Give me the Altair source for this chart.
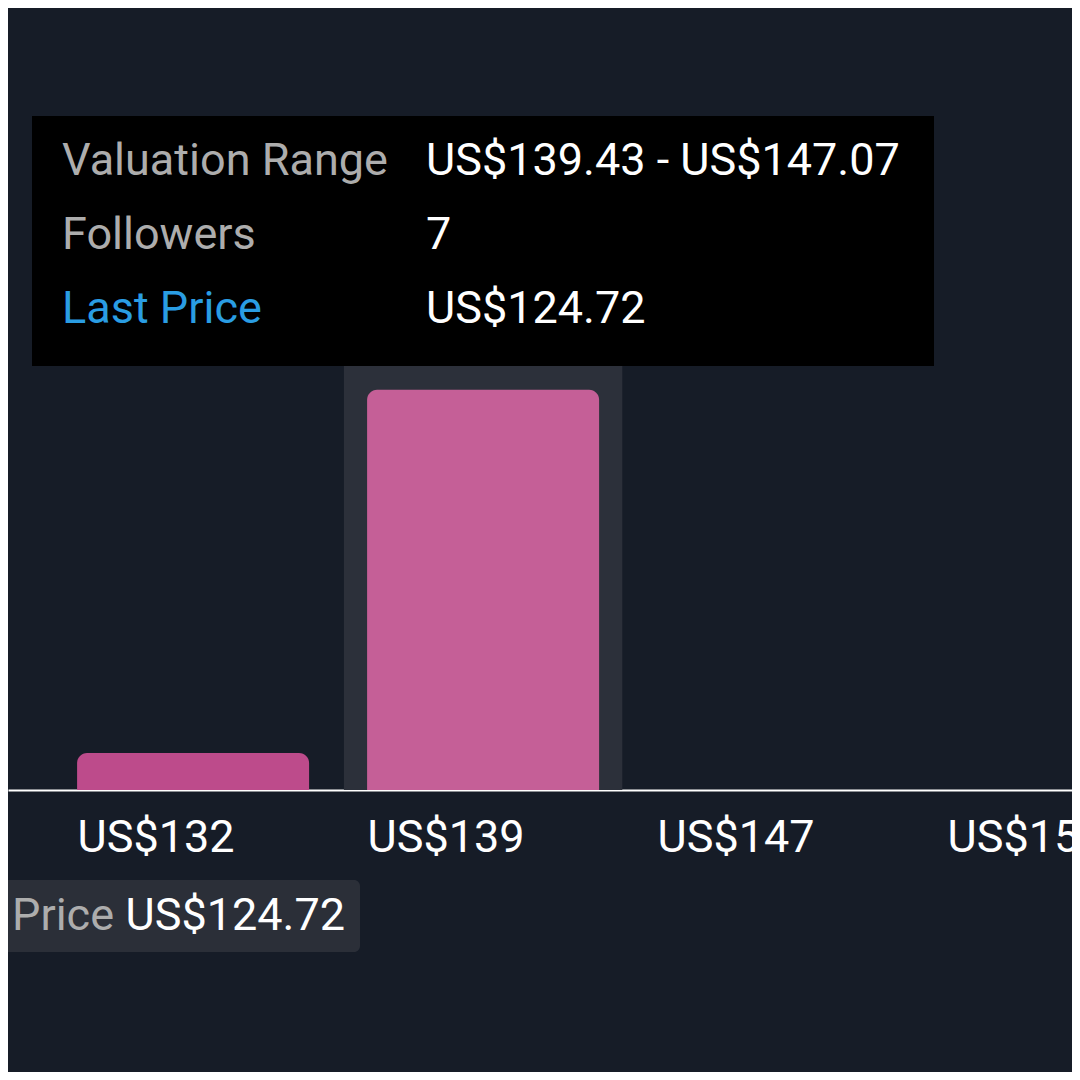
import altair as alt
import pandas as pd

# ---- data ----
bin_starts = [124.15, 131.79, 139.43, 147.07, 154.71]
bin_ends = [131.79, 139.43, 147.07, 154.71, 162.35]
followers = [0, 1, 7, 0, 0]
states = ["normal", "normal", "hover", "normal", "normal"]
tick_values = [131.79, 139.43, 147.07, 154.71]
last_price = [124.72]
tooltip_labels = ["Valuation Range", "Followers", "Last Price"]

df = pd.DataFrame({"start": bin_starts, "end": bin_ends,
                   "followers": followers, "state": states})
lp = pd.DataFrame({"price": last_price})

FONT = "Roboto"
FS = 45
BG = "#161c27"

xscale = alt.Scale(domain=[129.97, 158.0], nice=False, zero=False)
yscale = alt.Scale(domain=[0.388, 13.31], nice=False, zero=False, clamp=True)
xaxis = alt.Axis(
    values=tick_values,
    labelExpr="'US$' + format(datum.value, '.0f')",
    labelAlign="left", labelColor="#ffffff", labelFont=FONT,
    labelFontSize=FS, labelPadding=25, labelFlush=False,
    labelOverlap=False, labelBound=False,
    domainColor="#ffffff", domainWidth=2, ticks=False, grid=False,
    title=None)

base = alt.Chart(df)

highlight = base.transform_filter(alt.datum.state == "hover").transform_calculate(
    hs="datum.start - 0.08*(datum.end - datum.start)",
    he="datum.start + 0.88*(datum.end - datum.start)",
).mark_rect(color="#2c303a").encode(
    x=alt.X("hs:Q", scale=xscale, axis=xaxis),
    x2="he:Q",
    y=alt.value(358),
    y2=alt.value(782),
)

bars = base.transform_filter(alt.datum.followers > 0).transform_calculate(
    bar_end="datum.start + 0.8*(datum.end - datum.start)"
).mark_bar(cornerRadiusTopLeft=10, cornerRadiusTopRight=10).encode(
    x=alt.X("start:Q", scale=xscale, axis=xaxis),
    x2="bar_end:Q",
    y=alt.Y("followers:Q", scale=yscale, axis=None),
    y2=alt.datum(0),
    color=alt.Color("state:N", scale=alt.Scale(domain=["normal", "hover"],
                    range=["#bd4b8b", "#c55f97"]), legend=None),
)

# tooltip box
tip_box = alt.Chart(lp).mark_rect(color="#000000").encode(
    x=alt.value(24), x2=alt.value(926), y=alt.value(108), y2=alt.value(358))


def label(text, color, x, y, align="left"):
    return alt.Chart(lp).mark_text(
        text=text, align=align, baseline="alphabetic", font=FONT,
        fontSize=FS, color=color).encode(x=alt.value(x), y=alt.value(y))


t1 = label(tooltip_labels[0], "#adadad", 54, 167)
t2 = label(tooltip_labels[1], "#adadad", 54, 241)
t3 = label(tooltip_labels[2], "#2a9de3", 54, 315)

hover_df = base.transform_filter(alt.datum.state == "hover")
v1 = hover_df.transform_calculate(
    t="'US$' + format(datum.start, '.2f') + ' - US$' + format(datum.end, '.2f')"
).mark_text(align="left", baseline="alphabetic", font=FONT, fontSize=FS,
            color="#ffffff").encode(x=alt.value(418), y=alt.value(167), text="t:N")
v2 = hover_df.transform_calculate(t="format(datum.followers, 'd')").mark_text(
    align="left", baseline="alphabetic", font=FONT, fontSize=FS,
    color="#ffffff").encode(x=alt.value(418), y=alt.value(241), text="t:N")
v3 = alt.Chart(lp).transform_calculate(
    t="'US$' + format(datum.price, '.2f')").mark_text(
    align="left", baseline="alphabetic", font=FONT, fontSize=FS,
    color="#ffffff").encode(x=alt.value(418), y=alt.value(315), text="t:N")

# last price marker label at the bottom
lp_box = alt.Chart(lp).mark_rect(color="#2b2f38", cornerRadius=6).encode(
    x=alt.value(-300), x2=alt.value(352), y=alt.value(872), y2=alt.value(944))
lp_name = label("Last Price", "#adadad", 106, 922, align="right")
lp_val = alt.Chart(lp).transform_calculate(
    t="'US$' + format(datum.price, '.2f')").mark_text(
    align="right", baseline="alphabetic", font=FONT, fontSize=FS,
    color="#ffffff").encode(x=alt.value(337), y=alt.value(922), text="t:N")

chart = alt.layer(
    highlight, bars, tip_box, t1, t2, t3, v1, v2, v3, lp_box, lp_name, lp_val
).properties(
    width=1064, height=782,
    autosize=alt.AutoSizeParams(type="none"),
    padding={"left": 0, "top": 0, "right": 0, "bottom": 282},
    background=BG,
).configure_view(stroke=None)

chart.save("out.html", embed_options={"renderer": "svg", "actions": False})
